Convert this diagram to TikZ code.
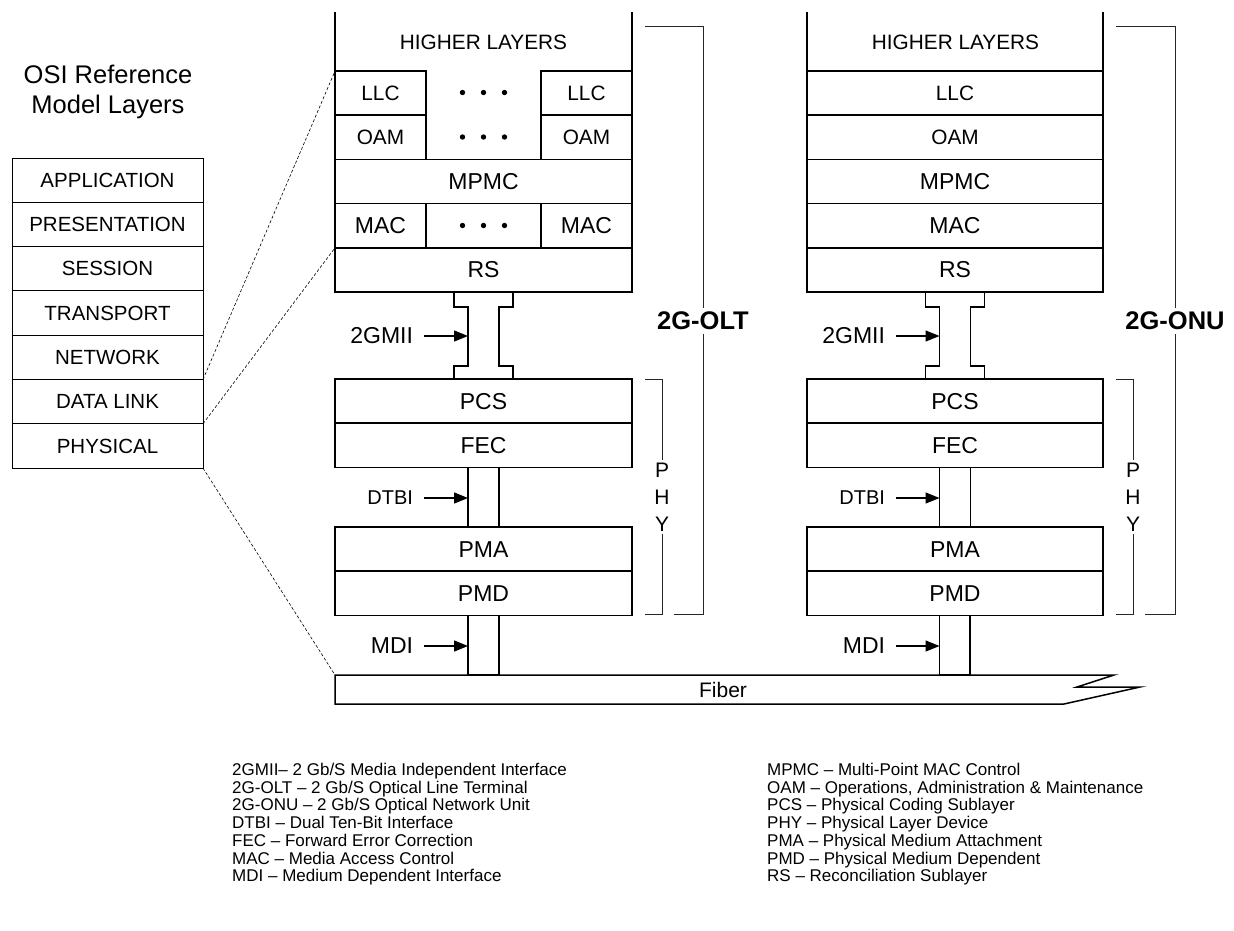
\documentclass[tikz,border=0pt]{standalone}
\usepackage{fontspec}
\setmainfont{Liberation Sans}
\usetikzlibrary{positioning,arrows.meta}

\begin{document}
\begin{tikzpicture}[
  x=1pt, y=-1pt,
  >={Triangle[length=14pt,width=11pt]},
  layer/.style={rectangle, draw=black, line width=1.5pt, minimum width=297pt, minimum height=44.2pt, inner sep=0pt, outer sep=0pt, font=\fontsize{23}{25}\selectfont},
  halfcell/.style={layer, minimum width=91pt, font=\fontsize{20.8}{22}\selectfont},
  osi/.style={rectangle, draw=black, line width=1pt, minimum width=191pt, minimum height=44.3pt, inner sep=0pt, outer sep=0pt, font=\fontsize{20.5}{22}\selectfont},
  lbl/.style={inner sep=0pt, outer xsep=11pt, font=\fontsize{23}{25}\selectfont},
  arr/.style={->, line width=1.3pt},
  neck/.style={draw=black, line width=1.5pt, fill=white},
  brk/.style={draw=black!85, line width=0.9pt},
  devtag/.style={fill=white, inner sep=4pt, font=\bfseries\fontsize{25.5}{28}\selectfont},
  phytag/.style={fill=white, inner sep=3pt, align=center, font=\fontsize{21}{27}\selectfont},
  zoomline/.style={line width=0.6pt, dash pattern=on 3pt off 2pt},
  keytext/.style={anchor=north west, align=left, inner sep=0pt, font=\fontsize{17}{17.7}\selectfont}
]
\useasboundingbox (0,0) rectangle (1234,930);

% OSI reference model
\node[align=center, font=\fontsize{25.5}{30}\selectfont] (osi-title) at (108,92) {OSI Reference\\Model Layers};
\node[osi, anchor=north west] (osi-app) at (12,158) {APPLICATION};
\node[osi, below=0pt of osi-app] (osi-pres) {PRESENTATION};
\node[osi, below=0pt of osi-pres] (osi-ses) {SESSION};
\node[osi, below=0pt of osi-ses] (osi-tra) {TRANSPORT};
\node[osi, below=0pt of osi-tra] (osi-net) {NETWORK};
\node[osi, below=0pt of osi-net] (osi-dl) {DATA LINK};
\node[osi, below=0pt of osi-dl] (osi-phy) {PHYSICAL};

% 2G-OLT stack
\node[font=\fontsize{20.8}{22}\selectfont] (olt-hl) at (483.5,42) {HIGHER LAYERS};
\node[halfcell, anchor=north west] (olt-llc1) at (335,71) {LLC};
\node[halfcell, anchor=north east] (olt-llc2) at (632,71) {LLC};
\node[halfcell, below=0pt of olt-llc1] (olt-oam1) {OAM};
\node[halfcell, below=0pt of olt-llc2] (olt-oam2) {OAM};
\node[layer, anchor=north west] (olt-mpmc) at (olt-oam1.south west) {MPMC};
\node[layer, below=0pt of olt-mpmc] (olt-macx) {};
\node[halfcell, font=\fontsize{23}{25}\selectfont, anchor=north west] (olt-mac1) at (olt-mpmc.south west) {MAC};
\node[halfcell, font=\fontsize{23}{25}\selectfont, anchor=north east] (olt-mac2) at (olt-mpmc.south east) {MAC};
\node[layer, below=0pt of olt-macx] (olt-rs) {RS};
\draw[line width=1.5pt] (335,12) -- (olt-llc1.north west);
\draw[line width=1.5pt] (632,12) -- (olt-llc2.north east);
\foreach \y in {92.5,137,225.5}
  \foreach \dx in {-21,0,21}
    \fill (483.5+\dx,\y) circle (2.7pt);

\node[layer, anchor=north west] (olt-pcs) at (335,379) {PCS};
\node[layer, below=0pt of olt-pcs] (olt-fec) {FEC};
\node[layer, anchor=north west] (olt-pma) at (335,527) {PMA};
\node[layer, below=0pt of olt-pma] (olt-pmd) {PMD};

\draw[neck] ([xshift=-29.5pt]olt-rs.south) -- ++(59,0) -- ++(0,15) -- ++(-14,0) -- ++(0,59) -- ++(14,0) -- ++(0,13) -- ++(-59,0) -- ++(0,-13) -- ++(14,0) -- ++(0,-59) -- ++(-14,0) -- cycle;
\draw[neck] ([xshift=-15.5pt]olt-fec.south) rectangle ([xshift=15.5pt]olt-pma.north);
\draw[neck] ([xshift=-15.5pt]olt-pmd.south) rectangle (499,675);

\coordinate (olt-gmii-in) at (468,336);
\coordinate (olt-dtbi-in) at (468,498);
\coordinate (olt-mdi-in) at (468,646);
\node[lbl, anchor=east] (olt-gmii) at (424,336) {2GMII};
\node[lbl, anchor=east, font=\fontsize{20}{22}\selectfont] (olt-dtbi) at (424,498) {DTBI};
\node[lbl, anchor=east] (olt-mdi) at (424,646) {MDI};
\draw[arr] (olt-gmii) -- (olt-gmii-in);
\draw[arr] (olt-dtbi) -- (olt-dtbi-in);
\draw[arr] (olt-mdi) -- (olt-mdi-in);

\draw[brk] (645,26) -- (703,26) -- (703,614) -- (674,614);
\node[devtag] (olt-tag) at (703,321) {2G-OLT};
\draw[brk] (645,379) -- (662,379) -- (662,614) -- (645,614);
\node[phytag] (olt-phy) at (662,497) {P\\H\\Y};

% 2G-ONU stack
\node[font=\fontsize{20.8}{22}\selectfont] (onu-hl) at (955.5,42) {HIGHER LAYERS};
\node[layer, minimum width=296pt, font=\fontsize{20.8}{22}\selectfont, anchor=north west] (onu-llc) at (807,71) {LLC};
\node[layer, minimum width=296pt, font=\fontsize{20.8}{22}\selectfont, below=0pt of onu-llc] (onu-oam) {OAM};
\node[layer, minimum width=296pt, below=0pt of onu-oam] (onu-mpmc) {MPMC};
\node[layer, minimum width=296pt, below=0pt of onu-mpmc] (onu-mac) {MAC};
\node[layer, minimum width=296pt, below=0pt of onu-mac] (onu-rs) {RS};
\draw[line width=1.5pt] (807,12) -- (onu-llc.north west);
\draw[line width=1.5pt] (1103,12) -- (onu-llc.north east);

\node[layer, minimum width=296pt, anchor=north west] (onu-pcs) at (807,379) {PCS};
\node[layer, minimum width=296pt, below=0pt of onu-pcs] (onu-fec) {FEC};
\node[layer, minimum width=296pt, anchor=north west] (onu-pma) at (807,527) {PMA};
\node[layer, minimum width=296pt, below=0pt of onu-pma] (onu-pmd) {PMD};

\draw[neck] ([xshift=-29.5pt]onu-rs.south) -- ++(59,0) -- ++(0,15) -- ++(-14,0) -- ++(0,59) -- ++(14,0) -- ++(0,13) -- ++(-59,0) -- ++(0,-13) -- ++(14,0) -- ++(0,-59) -- ++(-14,0) -- cycle;
\draw[neck] ([xshift=-15.5pt]onu-fec.south) rectangle ([xshift=15.5pt]onu-pma.north);
\draw[neck] ([xshift=-15.5pt]onu-pmd.south) rectangle (970,675);

\coordinate (onu-gmii-in) at (939.5,336);
\coordinate (onu-dtbi-in) at (939.5,498);
\coordinate (onu-mdi-in) at (939.5,646);
\node[lbl, anchor=east] (onu-gmii) at (896,336) {2GMII};
\node[lbl, anchor=east, font=\fontsize{20}{22}\selectfont] (onu-dtbi) at (896,498) {DTBI};
\node[lbl, anchor=east] (onu-mdi) at (896,646) {MDI};
\draw[arr] (onu-gmii) -- (onu-gmii-in);
\draw[arr] (onu-dtbi) -- (onu-dtbi-in);
\draw[arr] (onu-mdi) -- (onu-mdi-in);

\draw[brk] (1116,26) -- (1175,26) -- (1175,614) -- (1145,614);
\node[devtag] (onu-tag) at (1175,321) {2G-ONU};
\draw[brk] (1116,379) -- (1133,379) -- (1133,614) -- (1116,614);
\node[phytag] (onu-phy) at (1133,497) {P\\H\\Y};

% fiber
\draw[line width=1.5pt] (335,675) coordinate (fiber-nw) -- (1114,675) -- (1077,687) -- (1140,687) -- (1064,704) -- (335,704) -- cycle;
\node[font=\fontsize{21}{23}\selectfont] (fiber) at (723,690) {Fiber};

% zoom lines from the OSI model
\draw[zoomline] (osi-net.south east) -- (olt-llc1.north west);
\draw[zoomline] (osi-dl.south east) -- (olt-rs.north west);
\draw[zoomline] (osi-phy.south east) -- (fiber-nw);

% abbreviations
\node[keytext] (key-left) at (232,763) {2GMII– 2 Gb/S Media Independent Interface\\
2G-OLT – 2 Gb/S Optical Line Terminal\\
2G-ONU – 2 Gb/S Optical Network Unit\\
DTBI – Dual Ten-Bit Interface\\
FEC – Forward Error Correction\\
MAC – Media Access Control\\
MDI – Medium Dependent Interface};
\node[keytext] (key-right) at (767,763) {MPMC – Multi-Point MAC Control\\
OAM – Operations, Administration \& Maintenance\\
PCS – Physical Coding Sublayer\\
PHY – Physical Layer Device\\
PMA – Physical Medium Attachment\\
PMD – Physical Medium Dependent\\
RS – Reconciliation Sublayer};
\end{tikzpicture}
\end{document}
